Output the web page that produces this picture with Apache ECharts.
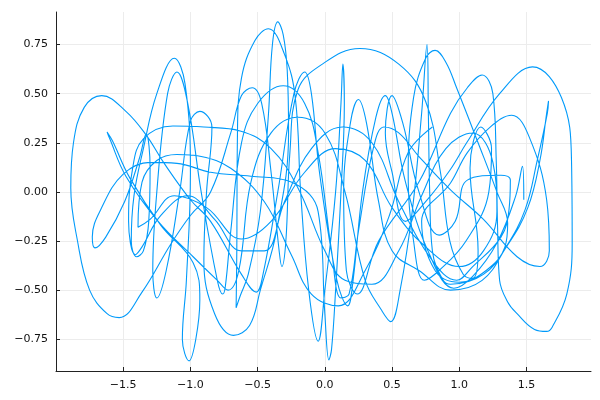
<!DOCTYPE html>
<html>
<head>
<meta charset="utf-8">
<script src="https://cdn.jsdelivr.net/npm/echarts@6/dist/echarts.min.js"></script>
<style>
  html, body { margin: 0; padding: 0; background: #fff; }
  #chart { width: 600px; height: 400px; }
</style>
</head>
<body>
<div id="chart"></div>
<script>
// tick values (labels drawn from these)
const xTicks = [-1.5, -1.0, -0.5, 0.0, 0.5, 1.0, 1.5];
const yTicks = [-0.75, -0.5, -0.25, 0.0, 0.25, 0.5, 0.75];

// trajectory, [x, y]
const segA = [[1.48,-0.04],[1.47,0.13],[1.42,-0.02],[1.28,-0.26],[1.10,-0.43],[0.96,-0.49],[0.78,-0.32],[0.60,0.05],[0.50,0.40],[0.45,0.49],[0.38,0.38],[0.28,0.0],[0.21,-0.45],[0.17,-0.58],[0.09,-0.45],[-0.04,0.10],[-0.10,0.50],[-0.15,0.61],[-0.23,0.50],[-0.35,0.0],[-0.46,-0.42],[-0.51,-0.51],[-0.62,-0.42]];
const segB = [[-0.85,-0.15],[-1.00,-0.04],[-1.20,0.15],[-1.33,0.29],[-1.48,0.41],[-1.66,0.49],[-1.79,0.43],[-1.87,0.25],[-1.89,0.02],[-1.84,-0.25],[-1.75,-0.50],[-1.62,-0.62],[-1.53,-0.64],[-1.36,-0.51],[-1.15,-0.27],[-1.00,-0.12],[-0.85,0.0]];
const segC = [[-0.70,0.30],[-0.62,0.49],[-0.54,0.53],[-0.47,0.45],[-0.40,0.10],[-0.34,-0.30],[-0.32,-0.38],[-0.29,-0.25],[-0.26,0.20],[-0.20,0.52],[-0.03,0.645],[0.26,0.73],[0.55,0.65],[0.75,0.46],[0.86,0.10],[0.93,-0.25],[1.03,-0.42],[1.10,-0.44],[1.14,-0.30]];
const segD = [[1.08,0.12],[1.16,0.33],[1.24,0.22],[1.22,0.00],[1.05,-0.25],[0.85,-0.40],[0.74,-0.45],[0.66,-0.25],[0.62,0.10],[0.66,0.48],[0.75,0.68],[0.82,0.72],[0.90,0.66],[0.98,0.53],[1.14,0.25],[1.28,0.00],[1.36,-0.16],[1.34,-0.28],[1.20,-0.40],[1.00,-0.46],[0.82,-0.40]];
const segE = [[0.72,-0.15],[0.935,0.045],[1.06,0.20],[1.23,0.33],[1.39,0.39],[1.52,0.28],[1.65,-0.04],[1.67,-0.30],[1.60,-0.38],[1.43,-0.33],[1.18,-0.14],[0.935,0.01],[0.70,0.18],[0.55,0.30]];
const segF = [[0.44,0.33],[0.36,0.22],[0.25,-0.20],[0.18,-0.52],[0.12,-0.54],[0.05,-0.30],[-0.05,0.20],[-0.15,0.45],[-0.31,0.54],[-0.50,0.45],[-0.62,0.25],[-0.70,-0.20],[-0.74,-0.48],[-0.76,-0.52],[-0.80,-0.45],[-0.92,0.00],[-1.02,0.45],[-1.10,0.61],[-1.17,0.50],[-1.25,0.00],[-1.28,-0.40],[-1.25,-0.54],[-1.18,-0.40],[-1.08,0.00],[-1.00,0.36],[-0.93,0.41],[-0.84,0.33],[-0.88,0.0],[-0.90,-0.35],[-0.82,-0.62],[-0.68,-0.73]];
const segG = [[-0.56,-0.68],[-0.48,-0.50],[-0.36,-0.20],[-0.27,0.30],[-0.28,0.62],[-0.31,0.80],[-0.35,0.865],[-0.39,0.75],[-0.42,0.39],[-0.48,-0.10],[-0.57,-0.42],[-0.63,-0.53],[-0.66,-0.59],[-0.655,-0.30],[-0.65,0.30],[-0.62,0.58],[-0.52,0.77],[-0.42,0.83],[-0.30,0.70],[-0.22,0.48],[-0.18,0.00],[-0.12,-0.50],[-0.05,-0.76],[0.00,-0.50],[0.08,0.00],[0.12,0.45],[0.134,0.65],[0.145,0.45],[0.12,0.00],[0.08,-0.50],[0.05,-0.80],[0.03,-0.855],[0.00,-0.62],[-0.05,-0.10]];
const segI = [[-0.25,0.05],[-0.55,0.08],[-0.85,0.10],[-1.10,0.145],[-1.30,0.15],[-1.50,0.09],[-1.66,-0.08],[-1.73,-0.23],[-1.71,-0.285],[-1.63,-0.23],[-1.49,-0.05],[-1.38,0.17],[-1.33,0.295],[-1.30,0.12],[-1.31,-0.15],[-1.35,-0.30],[-1.40,-0.33],[-1.44,-0.25],[-1.42,-0.02],[-1.35,0.22],[-1.25,0.50],[-1.12,0.68],[-1.04,0.55],[-1.00,0.10],[-1.03,-0.45],[-1.06,-0.75],[-1.01,-0.86],[-0.96,-0.75],[-0.93,-0.55]];
const segJ = [[-0.98,-0.36],[-1.22,-0.17],[-1.45,0.07],[-1.58,0.26],[-1.62,0.305],[-1.60,0.27],[-1.48,0.08],[-1.24,-0.15],[-0.98,-0.33],[-0.80,-0.45],[-0.72,-0.50]];
const segK = [[-0.64,-0.40],[-0.55,0.05],[-0.40,0.30],[-0.20,0.38],[0.00,0.30],[0.15,0.00],[0.30,-0.45],[0.42,-0.60],[0.49,-0.66],[0.56,-0.50],[0.65,-0.10],[0.72,0.40],[0.76,0.75],[0.77,0.40],[0.78,0.00],[0.80,-0.30],[0.88,-0.45],[0.935,-0.47]];
const segL = [[1.18,-0.42],[1.36,-0.27],[1.51,-0.08],[1.60,0.16],[1.65,0.40],[1.664,0.463],[1.655,0.40],[1.58,0.16],[1.49,-0.09],[1.34,-0.29],[1.17,-0.45],[0.935,-0.50],[0.70,-0.40],[0.50,-0.30]];
const segM = [[0.40,-0.05],[0.31,0.35],[0.25,0.47],[0.19,0.35],[0.14,0.0],[0.16,-0.40],[0.24,-0.52],[0.40,-0.25],[0.70,0.05]];
const segN = [[0.935,0.40],[1.06,0.53],[1.17,0.595],[1.25,0.50],[1.275,0.16],[1.285,-0.18],[1.30,-0.45],[1.36,-0.56],[1.43,-0.62],[1.56,-0.70],[1.65,-0.71],[1.69,-0.69],[1.80,-0.52],[1.84,-0.26],[1.835,0.16],[1.76,0.48],[1.545,0.636],[1.30,0.50],[1.055,0.25],[0.93,0.11],[0.75,-0.05],[0.60,-0.15]];
const segO = [[0.50,0.10],[0.45,0.30],[0.50,0.49],[0.58,0.35],[0.70,0.0],[0.85,-0.22],[0.97,-0.15],[1.06,0.06],[1.31,0.085],[1.38,0.06],[1.37,-0.09],[1.31,-0.23],[1.10,-0.38],[0.98,-0.45]];
const segP = [[0.80,-0.35],[0.55,-0.05],[0.35,0.25],[0.13,0.33],[-0.10,0.22],[-0.30,-0.05],[-0.45,-0.30],[-0.62,-0.30],[-0.82,-0.14],[-1.02,-0.02],[-1.22,-0.12],[-1.36,-0.28],[-1.41,-0.32],[-1.46,-0.15],[-1.43,0.12],[-1.35,0.27],[-1.13,0.335],[-0.90,0.33],[-0.63,0.31],[-0.40,0.22],[-0.20,0.02],[0.00,-0.30],[0.15,-0.45],[0.35,-0.47],[0.55,-0.30],[0.72,-0.02],[0.90,0.22],[1.10,0.30]];
const segQ = [[1.25,0.15],[1.28,-0.10],[1.18,-0.30],[1.00,-0.38],[0.75,-0.28],[0.50,-0.08],[0.30,0.16],[0.08,0.22],[-0.15,0.10],[-0.40,-0.15],[-0.62,-0.24],[-0.88,-0.08],[-1.12,-0.02],[-1.30,-0.14],[-1.39,-0.18],[-1.36,0.05],[-1.25,0.16],[-1.10,0.19],[-0.92,0.18],[-0.70,0.12],[-0.45,-0.05],[-0.25,-0.32],[-0.10,-0.52],[0.10,-0.58],[0.30,-0.40],[0.48,-0.12],[0.62,0.20],[0.80,0.33]];

const path = [].concat(segA, segB, segC, segD, segE, segF, segG, segI, segJ, segK, segL, segM, segN, segO, segP, segQ);

function fmt(v, d) {
    const s = Math.abs(v).toFixed(d);
    return (v < -1e-9 ? '\u2212' : '') + s;
}

let mychart = echarts.init(document.getElementById('chart'));
mychart.setOption({
    animation: false,
    backgroundColor: '#ffffff',
    grid: {
        left: 56,
        right: 9,
        top: 12,
        bottom: 29
    },
    xAxis: {
        type: 'value',
        min: -2.0,
        max: 1.98,
        axisLine: { show: true, onZero: false, lineStyle: { color: '#222', width: 1 } },
        axisTick: { show: true, inside: true, length: 4, customValues: xTicks, lineStyle: { color: '#222' } },
        axisLabel: {
            customValues: xTicks,
            margin: 9,
            color: '#111',
            fontSize: 11,
            fontFamily: 'DejaVu Sans',
            formatter: v => fmt(v, 1)
        },
        splitLine: { show: true, lineStyle: { color: '#ececec', width: 1 } }
    },
    yAxis: {
        type: 'value',
        min: -0.9115,
        max: 0.9155,
        axisLine: { show: true, onZero: false, lineStyle: { color: '#222', width: 1 } },
        axisTick: { show: true, inside: true, length: 4, customValues: yTicks, lineStyle: { color: '#222' } },
        axisLabel: {
            customValues: yTicks,
            margin: 8,
            color: '#111',
            fontSize: 11,
            fontFamily: 'DejaVu Sans',
            formatter: v => fmt(v, 2)
        },
        splitLine: { show: true, lineStyle: { color: '#ececec', width: 1 } }
    },
    series: [
        {
            type: 'line',
            data: path,
            showSymbol: false,
            smooth: 0.4,
            lineStyle: { color: '#009AFA', width: 1.1 }
        }
    ]
});
</script>
</body>
</html>
